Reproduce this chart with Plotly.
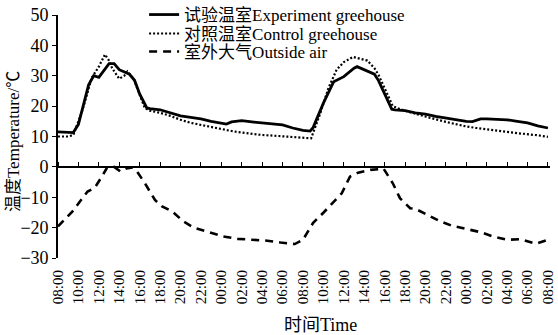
import plotly.graph_objects as go

# hours since 08:00 of day 1
exp_hours = [0, 1, 1.5, 2, 3, 3.5, 4, 5, 5.5, 6, 7, 7.5, 8, 8.7, 9, 10, 11, 12, 13, 14, 15, 16, 16.5, 17, 18,
             19, 20, 21, 22, 23, 24, 24.7, 25, 26, 27, 28, 29, 29.3, 30, 31, 31.4, 32, 32.7, 33, 34, 35, 36,
             37, 38, 39, 40, 40.6, 41.4, 42, 43, 44, 45, 46, 47, 48]
exp_temp = [11.5, 11.5, 11.3, 14, 27, 30, 29.5, 34, 34, 32, 30.5, 28.5, 24, 19.4, 19.2, 18.8, 17.8, 16.8, 16.3,
            15.8, 15, 14.5, 14.1, 14.8, 15.2, 14.8, 14.5, 14.1, 13.8, 12.8, 12, 11.8, 13, 21, 28, 29.7, 32.5,
            33, 32, 30.5, 28.4, 24, 19, 18.8, 18.5, 17.8, 17.4, 16.6, 16, 15.5, 15, 14.9, 15.8, 15.8, 15.6,
            15.5, 15, 14.5, 13.5, 12.8]

ctl_hours = [0, 1, 1.5, 2.4, 3.3, 4, 4.6, 5, 5.3, 6, 6.5, 6.8, 7.4, 8.5, 9, 10, 11, 12, 13, 14, 15, 16, 17, 18,
             19, 20, 21, 22, 23, 24, 24.8, 25.7, 26.5, 27.3, 28, 28.9, 30.3, 31, 31.4, 32.8, 33.5, 34.5, 35.5,
             36.5, 38, 39, 40, 41, 42, 43, 44, 45, 46, 47, 48]
ctl_temp = [10, 10, 10.5, 18.7, 29.3, 33, 37, 35, 32.5, 29, 30, 31.4, 29, 19.4, 18.5, 17.8, 16.8, 15.5, 14.5,
            13.8, 13, 12.3, 11.8, 11.3, 10.8, 10.5, 10.3, 10, 9.8, 9.4, 9.4, 17.7, 26, 32, 34.5, 36.2, 35,
            32.5, 30.3, 20, 19, 18, 17, 16.1, 14.8, 14, 13.3, 12.8, 12.3, 11.8, 11.5, 11.1, 10.8, 10.4, 9.9]

out_hours = [0, 1.4, 2.9, 3.6, 4.3, 4.8, 5.5, 6.1, 6.7, 7.3, 7.6, 8.5, 9.5, 10.2, 11.2, 12.3, 13.3, 14.9, 16.2,
             17.6, 19, 20.5, 21.8, 23.2, 24, 25, 26, 27, 27.8, 28.6, 29.4, 30.6, 31.4, 31.9, 32.8, 33.5, 34.5,
             35, 36.2, 37.3, 38.6, 39.9, 41.4, 42.6, 44, 45.3, 46.8, 48]
out_temp = [-19.6, -14.7, -8.1, -6.9, -3.2, -0.3, 0, -1.5, -0.5, -0.2, -0.8, -5.3, -10.9, -13, -14.7, -18, -20,
            -21.6, -22.9, -23.7, -24, -24.3, -24.9, -25.4, -24, -18.4, -15.1, -11.4, -8.7, -3.2, -1.9, -1,
            -0.8, -0.6, -5.4, -10.3, -13.6, -13.8, -15.8, -17.7, -19.4, -20.4, -21.5, -22.9, -24, -23.8,
            -25.3, -24]

tick_hours = list(range(0, 49, 2))
tick_text = ["08:00", "10:00", "12:00", "14:00", "16:00", "18:00", "20:00", "22:00", "00:00", "02:00",
             "04:00", "06:00", "08:00", "10:00", "12:00", "14:00", "16:00", "18:00", "20:00", "22:00",
             "00:00", "02:00", "04:00", "06:00", "08:00"]
y_ticks = [-30, -20, -10, 0, 10, 20, 30, 40, 50]

names = ["试验温室Experiment greehouse", "对照温室Control greehouse", "室外大气Outside air"]

FONT = "'Liberation Serif', 'Noto Sans CJK SC', serif"

fig = go.Figure()
fig.add_trace(go.Scatter(x=exp_hours, y=exp_temp, mode="lines", name=names[0], legend="legend",
                         line=dict(color="black", width=2.8)))
fig.add_trace(go.Scatter(x=ctl_hours, y=ctl_temp, mode="lines", name=names[1], legend="legend2",
                         line=dict(color="black", width=2.2, dash="2px,2px")))
fig.add_trace(go.Scatter(x=out_hours, y=out_temp, mode="lines", name=names[2], legend="legend3",
                         line=dict(color="black", width=2.6, dash="8px,6px")))
# invisible helper trace to carry the zero-line axis
fig.add_trace(go.Scatter(x=[tick_hours[0]], y=[y_ticks[3]], xaxis="x2", mode="markers",
                         marker=dict(opacity=0), showlegend=False, hoverinfo="skip"))

leg_common = dict(x=0.175, xanchor="left", yanchor="middle", bgcolor="rgba(0,0,0,0)",
                  font=dict(size=17, family=FONT), borderwidth=0)

fig.update_layout(
    width=558, height=335,
    margin=dict(l=58, r=8, t=15, b=77, autoexpand=False),
    paper_bgcolor="white", plot_bgcolor="white",
    font=dict(family=FONT, color="black", size=16),
    showlegend=True,
    legend=dict(y=1.0, **leg_common),
    legend2=dict(y=0.922, **leg_common),
    legend3=dict(y=0.848, **leg_common),
    xaxis=dict(range=[0, 48.2], tickvals=tick_hours, ticktext=tick_text, tickangle=-90,
               showline=False, showgrid=False, zeroline=False, ticks="outside", ticklen=5,
               tickcolor="rgba(0,0,0,0)", tickfont=dict(size=15, family=FONT)),
    xaxis2=dict(range=[0, 48.2], overlaying="x", anchor="free", position=0.375, side="top",
                tickvals=tick_hours, showticklabels=False, ticks="outside", ticklen=4,
                tickwidth=1.2, tickcolor="black", showline=True, linecolor="black", linewidth=1.6,
                showgrid=False, zeroline=False),
    yaxis=dict(range=[-30, 50], tickvals=y_ticks, showline=True, linecolor="black", linewidth=1.6,
               ticks="outside", ticklen=4, tickwidth=1.2, tickcolor="black", showgrid=False,
               zeroline=False, tickfont=dict(size=18, family=FONT)),
    annotations=[
        dict(text="温度Temperature/℃", textangle=-90, xref="paper", yref="paper",
             x=-0.09, y=0.48, xanchor="center", yanchor="middle", showarrow=False,
             font=dict(size=17, family=FONT)),
        dict(text="时间Time", xref="paper", yref="paper", x=0.533, y=-0.275,
             xanchor="center", yanchor="middle", showarrow=False, font=dict(size=18, family=FONT)),
    ],
)

fig.write_html("out.html", config={"displayModeBar": False},
               post_script="document.body.style.margin='0';document.body.style.overflow='hidden';")
